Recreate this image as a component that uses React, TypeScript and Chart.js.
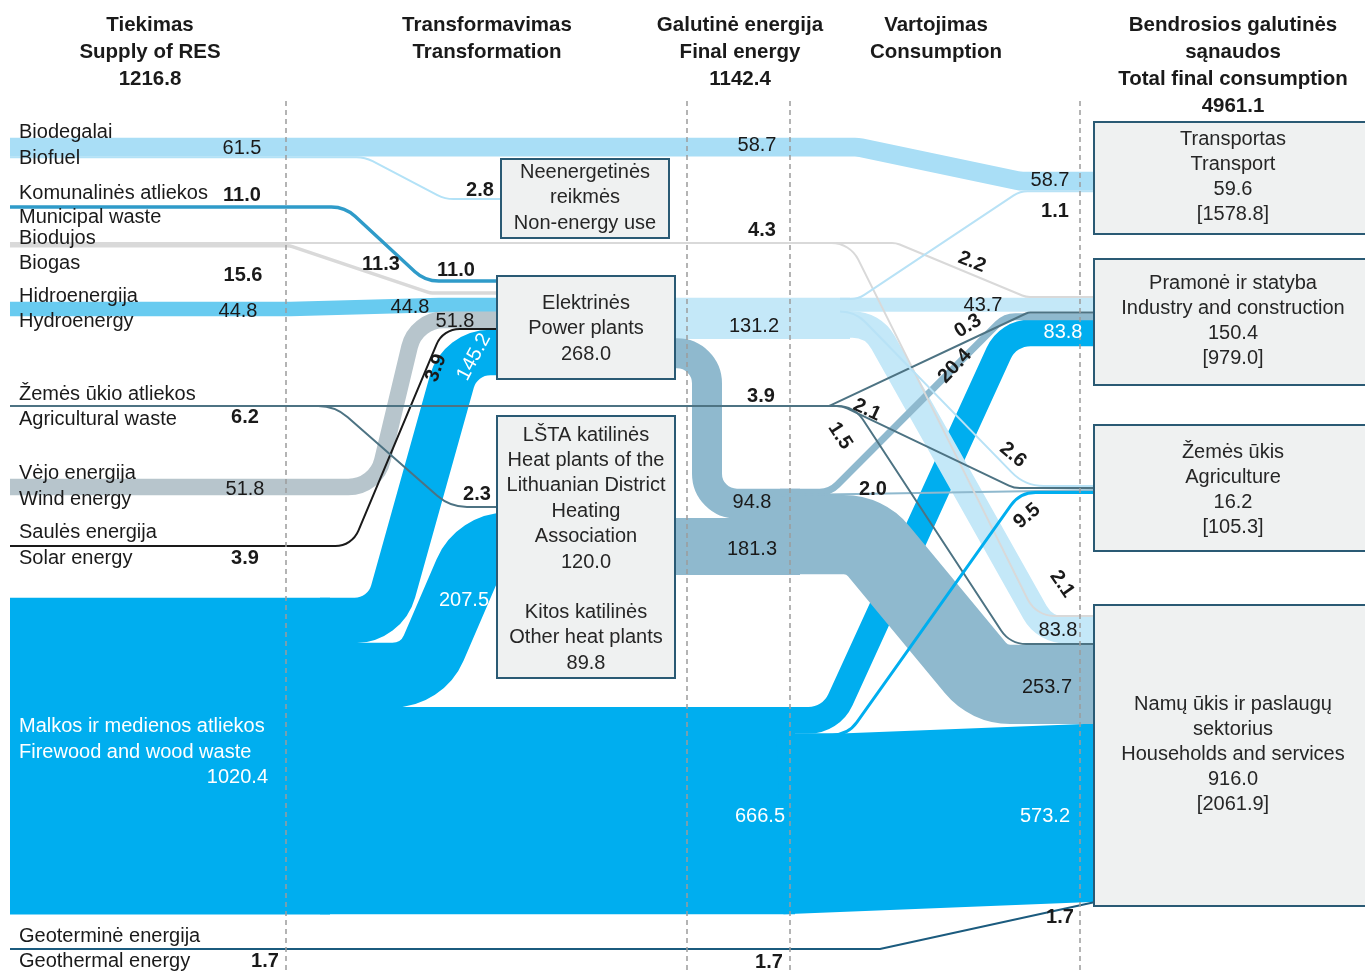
import React, { useEffect, useRef } from 'react';
import { Chart, registerables } from 'chart.js';

Chart.register(...registerables);

// ================= DATA =================
const headerSupply = ['Tiekimas', 'Supply of RES'];
const headerTransformation = ['Transformavimas', 'Transformation'];
const headerFinal = ['Galutinė energija', 'Final energy'];
const headerConsumption = ['Vartojimas', 'Consumption'];
const headerTotal = ['Bendrosios galutinės', 'sąnaudos', 'Total final consumption'];
const stageTotals = [1216.8, 1142.4, 4961.1]; // supply, final energy, total final consumption

const supplyNamesLt = ['Biodegalai', 'Komunalinės atliekos', 'Biodujos', 'Hidroenergija', 'Žemės ūkio atliekos', 'Vėjo energija', 'Saulės energija', 'Malkos ir medienos atliekos', 'Geoterminė energija'];
const supplyNamesEn = ['Biofuel', 'Municipal waste', 'Biogas', 'Hydroenergy', 'Agricultural waste', 'Wind energy', 'Solar energy', 'Firewood and wood waste', 'Geothermal energy'];
const supplyValues = [61.5, 11.0, 15.6, 44.8, 6.2, 51.8, 3.9, 1020.4, 1.7];

const nonEnergyLines = ['Neenergetinės', 'reikmės', 'Non-energy use'];
const powerPlantLines = ['Elektrinės', 'Power plants'];
const lstaLines = ['LŠTA katilinės', 'Heat plants of the', 'Lithuanian District', 'Heating', 'Association'];
const otherHeatLines = ['Kitos katilinės', 'Other heat plants'];
const transformValues = [268.0, 120.0, 89.8]; // power plants, LŠTA, other heat plants

const consumerLines = [
  ['Transportas', 'Transport'],
  ['Pramonė ir statyba', 'Industry and construction'],
  ['Žemės ūkis', 'Agriculture'],
  ['Namų ūkis ir paslaugų', 'sektorius', 'Households and services'],
];
const consumerValues = [59.6, 150.4, 16.2, 916.0];
const consumerTotals = [1578.8, 979.0, 105.3, 2061.9];

// flows
const biofuelFlows = [58.7, 2.8]; // transport, non-energy use
const biogasFlows = [2.2, 2.1, 11.3]; // industry, households, power plants
const agWasteFlows = [0.3, 2.1, 1.5, 2.3]; // industry, agriculture, households, heat plants
const woodFlows = [145.2, 207.5, 666.5]; // power plants, heat plants, final energy
const woodFinalFlows = [83.8, 9.5, 573.2]; // industry, agriculture, households
const powerOutputs = [131.2, 94.8]; // electricity, heat
const electricityFlows = [1.1, 43.7, 2.6, 83.8]; // transport, industry, agriculture, households
const heatPlantOutput = [181.3];
const heatFlows = [20.4, 2.0, 253.7]; // industry, agriculture, households

// ================= LAYOUT =================
const W = 1365;
const H = 971;
const K = 0.31; // px per unit
const MIN_W = 2;
const th = (v: number) => Math.max(v * K, MIN_W);
const fmt = (v: number) => v.toFixed(1);
const stack = (top: number, vals: number[]) => {
  let y = top;
  return vals.map((v) => {
    const t = th(v);
    const c = y + t / 2;
    y += t;
    return c;
  });
};

const C = {
  biofuel: '#a9def6',
  biofuelThin: '#b3e2f7',
  municipal: '#2f9bc9',
  biogas: '#d9d9d9',
  hydro: '#68cbf0',
  ag: '#4d7383',
  wind: '#b7c5cc',
  solar: '#1a1a1a',
  wood: '#00aeef',
  geo: '#1b5b7e',
  elec: '#c4e8f8',
  elecThin: '#b8e2f6',
  heat: '#8fb9ce',
  boxFill: '#eff1f1',
  boxLine: '#2a5a74',
  dash: '#9c9c9c',
  text: '#1a1a1a',
};

const biofuelC = stack(138, biofuelFlows);
const biogasC = stack(242, [biogasFlows[0] + biogasFlows[1], biogasFlows[2]]);
const woodC = stack(598, woodFlows);
const woodTrunkC = 598 + th(supplyValues[7]) / 2;
const woodFinalC = stack(woodC[2] - th(woodFlows[2]) / 2, woodFinalFlows);
const powerInC = stack(298, [supplyValues[3], supplyValues[5], supplyValues[6], woodFlows[0]]);
const powerOutC = stack(298, powerOutputs);
const elecBandC = stack(298, [electricityFlows[1], electricityFlows[3]]);
const elecSplitY = 298 + th(electricityFlows[1]);
const heatTrunkC = stack(489, [powerOutputs[1], heatPlantOutput[0]]);
const heatBandC = stack(489, [heatFlows[0], heatFlows[2]]);
const heatSplitY = 489 + th(heatFlows[0]);
const transportC = stack(172, [biofuelFlows[0], electricityFlows[0]]);
const industryC = stack(296, [biogasFlows[0], electricityFlows[1], agWasteFlows[0], heatFlows[0], woodFinalFlows[0]]);
const agriC = stack(485, [electricityFlows[2], agWasteFlows[1], heatFlows[1], woodFinalFlows[1]]);
const householdsC = stack(615, [biogasFlows[1], electricityFlows[3], agWasteFlows[2], heatFlows[2], woodFinalFlows[2], supplyValues[8]]);
const AGY = 406;

type Flow = { value: number; color: string; r: number; pts: number[][] };
const flows: Flow[] = [
  // wood
  { value: supplyValues[7], color: C.wood, r: 0, pts: [[10, woodTrunkC], [330, woodTrunkC]] },
  { value: woodFlows[0], color: C.wood, r: 40, pts: [[320, woodC[0]], [385, woodC[0]], [460, powerInC[3]], [510, powerInC[3]]] },
  { value: woodFlows[1], color: C.wood, r: 45, pts: [[320, woodC[1]], [422, woodC[1]], [478, 545], [510, 545]] },
  { value: woodFlows[2], color: C.wood, r: 0, pts: [[320, woodC[2]], [795, woodC[2]]] },
  { value: woodFinalFlows[0], color: C.wood, r: 35, pts: [[780, woodFinalC[0]], [831, woodFinalC[0]], [1008, industryC[4]], [1100, industryC[4]]] },
  { value: woodFinalFlows[2], color: C.wood, r: 0, pts: [[780, woodFinalC[2]], [1100, householdsC[4]]] },
  // electricity
  { value: powerOutputs[0], color: C.elec, r: 0, pts: [[660, powerOutC[0]], [850, powerOutC[0]]] },
  { value: electricityFlows[1], color: C.elec, r: 0, pts: [[840, elecBandC[0]], [1100, industryC[1]]] },
  { value: electricityFlows[3], color: C.elec, r: 35, pts: [[840, elecBandC[1]], [873, elecBandC[1]], [1045, householdsC[1]], [1100, householdsC[1]]] },
  // heat
  { value: powerOutputs[1], color: C.heat, r: 30, pts: [[660, powerOutC[1]], [707, powerOutC[1]], [707, heatTrunkC[0]], [800, heatTrunkC[0]]] },
  { value: heatPlantOutput[0], color: C.heat, r: 0, pts: [[660, heatTrunkC[1]], [800, heatTrunkC[1]]] },
  { value: heatFlows[2], color: C.heat, r: 45, pts: [[780, heatBandC[1]], [865, heatBandC[1]], [989, householdsC[3]], [1100, householdsC[3]]] },
  { value: heatFlows[0], color: C.heat, r: 25, pts: [[780, heatBandC[0]], [830, heatBandC[0]], [1005, industryC[3]], [1100, industryC[3]]] },
  { value: heatFlows[1], color: C.heat, r: 0, pts: [[780, heatSplitY], [1100, agriC[2]]] },
  // biofuel
  { value: biofuelFlows[0], color: C.biofuel, r: 30, pts: [[10, biofuelC[0]], [858, biofuelC[0]], [1020, transportC[0]], [1100, transportC[0]]] },
  { value: biofuelFlows[1], color: C.biofuelThin, r: 35, pts: [[10, biofuelC[1]], [365, biofuelC[1]], [445, 199], [510, 199]] },
  // hydro
  { value: supplyValues[3], color: C.hydro, r: 60, pts: [[10, 309], [290, 309], [440, powerInC[0]], [510, powerInC[0]]] },
  // biogas
  { value: biogasFlows[2], color: C.biogas, r: 15, pts: [[10, biogasC[1]], [290, biogasC[1]], [430, 293], [510, 293]] },
  { value: biogasFlows[0], color: C.biogas, r: 20, pts: [[10, biogasC[0]], [896, biogasC[0]], [1026, industryC[0]], [1100, industryC[0]]] },
  { value: biogasFlows[1], color: C.biogas, r: 30, pts: [[10, biogasC[0]], [850, biogasC[0]], [1036, householdsC[0]], [1100, householdsC[0]]] },
  // municipal
  { value: supplyValues[1], color: C.municipal, r: 35, pts: [[10, 207], [345, 207], [425, 281], [510, 281]] },
  // wind, solar
  { value: supplyValues[5], color: C.wind, r: 35, pts: [[10, 487], [376, 487], [416, powerInC[1]], [510, powerInC[1]]] },
  { value: supplyValues[6], color: C.solar, r: 25, pts: [[10, 546], [352, 546], [443, powerInC[2]], [510, powerInC[2]]] },
  // agricultural waste
  { value: agWasteFlows[3], color: C.ag, r: 45, pts: [[10, AGY], [335, AGY], [450, 507], [510, 507]] },
  { value: agWasteFlows[0], color: C.ag, r: 10, pts: [[10, AGY], [829, AGY], [1028, industryC[2]], [1100, industryC[2]]] },
  { value: agWasteFlows[1], color: C.ag, r: 25, pts: [[10, AGY], [842, AGY], [1014, agriC[1]], [1100, agriC[1]]] },
  { value: agWasteFlows[2], color: C.ag, r: 30, pts: [[10, AGY], [854, AGY], [1010, householdsC[2]], [1100, householdsC[2]]] },
  // thin electricity
  { value: electricityFlows[0], color: C.elecThin, r: 25, pts: [[840, 299], [858, 299], [1020, transportC[1]], [1100, transportC[1]]] },
  { value: electricityFlows[2], color: C.elecThin, r: 45, pts: [[840, elecSplitY], [855, elecSplitY], [1025, agriC[0]], [1100, agriC[0]]] },
  // wood to agriculture
  { value: woodFinalFlows[1], color: C.wood, r: 30, pts: [[780, woodFinalC[1]], [848, woodFinalC[1]], [1020, agriC[3]], [1100, agriC[3]]] },
  // geothermal
  { value: supplyValues[8], color: C.geo, r: 10, pts: [[10, 949], [880, 949], [1094, householdsC[5]]] },
];

const dashX = [286, 687, 790, 1080];
const boxes = [
  { x: 501, y: 159, w: 168, h: 79 },
  { x: 497, y: 276, w: 178, h: 103 },
  { x: 497, y: 416, w: 178, h: 262 },
  { x: 1094, y: 122, w: 280, h: 112 },
  { x: 1094, y: 259, w: 280, h: 126 },
  { x: 1094, y: 425, w: 280, h: 126 },
  { x: 1094, y: 605, w: 280, h: 301 },
];

type Lbl = { t: string; x: number; y: number; b?: boolean; c?: string; rot?: number; align?: CanvasTextAlign };
const flowLabels: Lbl[] = [
  { t: fmt(supplyValues[0]), x: 242, y: 148 },
  { t: fmt(supplyValues[1]), x: 242, y: 195, b: true },
  { t: fmt(supplyValues[2]), x: 243, y: 275, b: true },
  { t: fmt(supplyValues[3]), x: 238, y: 311 },
  { t: fmt(supplyValues[4]), x: 245, y: 417, b: true },
  { t: fmt(supplyValues[5]), x: 245, y: 489 },
  { t: fmt(supplyValues[6]), x: 245, y: 558, b: true },
  { t: fmt(supplyValues[7]), x: 268, y: 777, c: '#fff', align: 'right' },
  { t: fmt(supplyValues[8]), x: 265, y: 961, b: true },
  { t: fmt(biofuelFlows[1]), x: 480, y: 190, b: true },
  { t: fmt(biogasFlows[2]), x: 381, y: 264, b: true },
  { t: fmt(supplyValues[1]), x: 456, y: 270, b: true },
  { t: fmt(supplyValues[3]), x: 410, y: 307 },
  { t: fmt(supplyValues[5]), x: 455, y: 321 },
  { t: fmt(supplyValues[6]), x: 436, y: 368, b: true, rot: -70 },
  { t: fmt(woodFlows[0]), x: 474, y: 357, c: '#fff', rot: -62 },
  { t: fmt(agWasteFlows[3]), x: 477, y: 494, b: true },
  { t: fmt(woodFlows[1]), x: 464, y: 600, c: '#fff' },
  { t: fmt(biofuelFlows[0]), x: 757, y: 145 },
  { t: fmt(biogasFlows[0] + biogasFlows[1]), x: 762, y: 230, b: true },
  { t: fmt(powerOutputs[0]), x: 754, y: 326 },
  { t: fmt(agWasteFlows[0] + agWasteFlows[1] + agWasteFlows[2]), x: 761, y: 396, b: true },
  { t: fmt(powerOutputs[1]), x: 752, y: 502 },
  { t: fmt(heatPlantOutput[0]), x: 752, y: 549 },
  { t: fmt(woodFlows[2]), x: 760, y: 816, c: '#fff' },
  { t: fmt(supplyValues[8]), x: 769, y: 962, b: true },
  { t: fmt(biofuelFlows[0]), x: 1050, y: 180 },
  { t: fmt(electricityFlows[0]), x: 1055, y: 211, b: true },
  { t: fmt(biogasFlows[0]), x: 972, y: 262, b: true, rot: 22 },
  { t: fmt(electricityFlows[1]), x: 983, y: 305 },
  { t: fmt(agWasteFlows[0]), x: 968, y: 326, b: true, rot: -32 },
  { t: fmt(woodFinalFlows[0]), x: 1063, y: 332, c: '#fff' },
  { t: fmt(heatFlows[0]), x: 955, y: 366, b: true, rot: -47 },
  { t: fmt(agWasteFlows[1]), x: 867, y: 410, b: true, rot: 25 },
  { t: fmt(agWasteFlows[2]), x: 840, y: 436, b: true, rot: 57 },
  { t: fmt(electricityFlows[2]), x: 1013, y: 455, b: true, rot: 40 },
  { t: fmt(heatFlows[1]), x: 873, y: 489, b: true },
  { t: fmt(woodFinalFlows[1]), x: 1027, y: 516, b: true, rot: -40 },
  { t: fmt(biogasFlows[1]), x: 1062, y: 584, b: true, rot: 55 },
  { t: fmt(electricityFlows[3]), x: 1058, y: 630 },
  { t: fmt(heatFlows[2]), x: 1047, y: 687 },
  { t: fmt(woodFinalFlows[2]), x: 1045, y: 816, c: '#fff' },
  { t: fmt(supplyValues[8]), x: 1060, y: 917, b: true },
];

const supplyLabelY = [[132, 158], [193, 217], [238, 263], [296, 321], [394, 419], [473, 499], [532, 558], [726, 752], [936, 961]];

const FONT = '"Liberation Sans", Arial, Helvetica, sans-serif';

function routePath(ctx: CanvasRenderingContext2D, pts: { x: number; y: number }[], r: number) {
  ctx.moveTo(pts[0].x, pts[0].y);
  const n = pts.length;
  for (let j = 1; j < n - 1; j++) {
    const a = pts[j - 1], b = pts[j], c = pts[j + 1];
    const l1 = Math.hypot(b.x - a.x, b.y - a.y);
    const l2 = Math.hypot(c.x - b.x, c.y - b.y);
    if (l1 < 1e-6 || l2 < 1e-6) continue;
    const cos = ((b.x - a.x) * (c.x - b.x) + (b.y - a.y) * (c.y - b.y)) / (l1 * l2);
    const turn = Math.acos(Math.max(-1, Math.min(1, cos)));
    const tanH = Math.tan(turn / 2);
    let rr = r;
    if (tanH > 1e-6) {
      const maxT = Math.min(j === 1 ? l1 : l1 / 2, j === n - 2 ? l2 : l2 / 2);
      rr = Math.min(r, maxT / tanH);
    }
    if (rr <= 0.01 || tanH <= 1e-6) ctx.lineTo(b.x, b.y);
    else ctx.arcTo(b.x, b.y, c.x, c.y, rr);
  }
  ctx.lineTo(pts[n - 1].x, pts[n - 1].y);
}

function text(ctx: CanvasRenderingContext2D, s: string, x: number, y: number, opts: { size?: number; bold?: boolean; color?: string; align?: CanvasTextAlign; rot?: number } = {}) {
  ctx.save();
  ctx.font = `${opts.bold ? 'bold ' : ''}${opts.size || 20}px ${FONT}`;
  ctx.fillStyle = opts.color || C.text;
  ctx.textAlign = opts.align || 'center';
  ctx.textBaseline = 'middle';
  ctx.translate(x, y);
  if (opts.rot) ctx.rotate((opts.rot * Math.PI) / 180);
  ctx.fillText(s, 0, 0);
  ctx.restore();
}

const sankeyPlugin = {
  id: 'sankeyFlows',
  beforeDatasetsDraw(chart: any) {
    const ctx: CanvasRenderingContext2D = chart.ctx;
    const ys = chart.scales.y;
    chart.data.datasets.forEach((ds: any, i: number) => {
      const meta = chart.getDatasetMeta(i);
      const pts = meta.data.map((p: any) => ({ x: p.x, y: p.y }));
      if (pts.length < 2) return;
      const w = Math.max(Math.abs(ys.getPixelForValue(0) - ys.getPixelForValue(ds.flowValue * K)), MIN_W);
      ctx.save();
      ctx.beginPath();
      routePath(ctx, pts, ds.flowRadius);
      ctx.lineWidth = w > 4 ? w + 0.6 : w;
      ctx.strokeStyle = ds.flowColor;
      ctx.lineCap = 'butt';
      ctx.lineJoin = 'round';
      ctx.stroke();
      ctx.restore();
    });
  },
  afterDatasetsDraw(chart: any) {
    const ctx: CanvasRenderingContext2D = chart.ctx;
    const xs = chart.scales.x;
    const ys = chart.scales.y;
    // dashed column lines
    ctx.save();
    ctx.strokeStyle = C.dash;
    ctx.lineWidth = 1.5;
    ctx.setLineDash([5, 4]);
    dashX.forEach((x) => {
      ctx.beginPath();
      ctx.moveTo(xs.getPixelForValue(x), ys.getPixelForValue(101));
      ctx.lineTo(xs.getPixelForValue(x), ys.getPixelForValue(H));
      ctx.stroke();
    });
    ctx.restore();
    // boxes
    ctx.save();
    boxes.forEach((b) => {
      const x0 = xs.getPixelForValue(b.x), y0 = ys.getPixelForValue(b.y);
      const x1 = xs.getPixelForValue(b.x + b.w), y1 = ys.getPixelForValue(b.y + b.h);
      ctx.fillStyle = C.boxFill;
      ctx.fillRect(x0, y0, x1 - x0, y1 - y0);
      ctx.strokeStyle = C.boxLine;
      ctx.lineWidth = 2;
      ctx.strokeRect(x0, y0, x1 - x0, y1 - y0);
    });
    ctx.restore();

    // headers
    const hdr = (lines: string[], x: number) => lines.forEach((s, i) => text(ctx, s, x, 25 + i * 27, { bold: true, size: 20.5 }));
    hdr([...headerSupply, fmt(stageTotals[0])], 150);
    hdr(headerTransformation, 487);
    hdr([...headerFinal, fmt(stageTotals[1])], 740);
    hdr(headerConsumption, 936);
    hdr([...headerTotal, fmt(stageTotals[2])], 1233);

    // supply labels
    supplyNamesLt.forEach((s, i) => {
      const white = i === 7;
      text(ctx, s, 19, supplyLabelY[i][0], { align: 'left', color: white ? '#fff' : C.text });
      text(ctx, supplyNamesEn[i], 19, supplyLabelY[i][1], { align: 'left', color: white ? '#fff' : C.text });
    });

    // box texts
    const boxText = (lines: string[], x: number, y0: number, step: number) =>
      lines.forEach((s, i) => text(ctx, s, x, y0 + i * step, { color: '#262626' }));
    boxText(nonEnergyLines, 585, 172, 25.5);
    boxText([...powerPlantLines, fmt(transformValues[0])], 586, 303, 25.5);
    boxText([...lstaLines, fmt(transformValues[1])], 586, 435, 25.4);
    boxText([...otherHeatLines, fmt(transformValues[2])], 586, 612, 25.5);
    const consumerTop = [139, 283, 452, 704];
    consumerLines.forEach((lines, i) => {
      boxText([...lines, fmt(consumerValues[i]), `[${fmt(consumerTotals[i])}]`], 1233, consumerTop[i], 25.2);
    });

    // flow labels
    flowLabels.forEach((l) => text(ctx, l.t, l.x, l.y, { bold: l.b, color: l.c || C.text, rot: l.rot, align: l.align }));
  },
};

export default function App() {
  const ref = useRef<HTMLCanvasElement>(null);
  useEffect(() => {
    const canvas = ref.current;
    if (!canvas) return;
    const chart = new Chart(canvas, {
      type: 'scatter',
      data: {
        datasets: flows.map((f) => ({
          data: f.pts.map(([x, y]) => ({ x, y })),
          flowValue: f.value,
          flowColor: f.color,
          flowRadius: f.r,
          pointRadius: 0,
          pointHoverRadius: 0,
          showLine: false,
        })) as any,
      },
      options: {
        responsive: false,
        maintainAspectRatio: false,
        animation: false,
        devicePixelRatio: 1,
        events: [],
        layout: { padding: 0 },
        plugins: { legend: { display: false }, tooltip: { enabled: false }, title: { display: false } },
        scales: {
          x: { type: 'linear', min: 0, max: W, display: false },
          y: { type: 'linear', min: 0, max: H, reverse: true, display: false },
        },
      } as any,
      plugins: [sankeyPlugin as any],
    });
    return () => chart.destroy();
  }, []);
  return (
    <div style={{ position: 'absolute', left: 0, top: 0, width: W, height: H, background: '#fff' }}>
      <canvas ref={ref} width={W} height={H} style={{ display: 'block' }} />
    </div>
  );
}
